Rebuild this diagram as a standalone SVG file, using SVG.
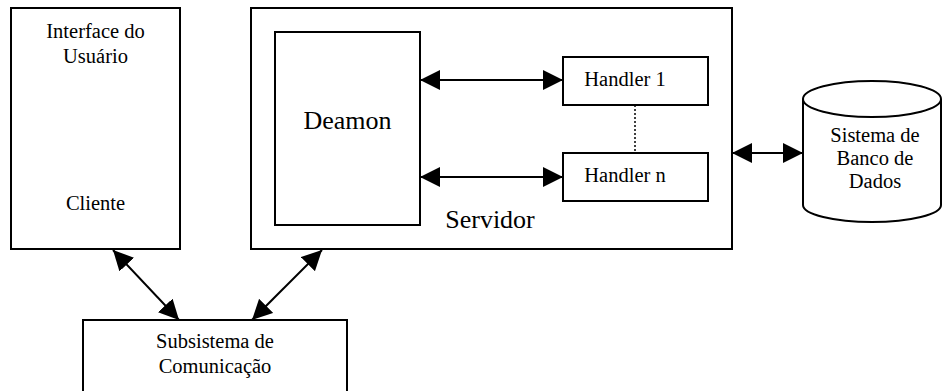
<svg xmlns="http://www.w3.org/2000/svg" width="943" height="391" viewBox="0 0 943 391">
  <defs>
    <style>
      .box { fill: #fff; stroke: #000; stroke-width: 2; }
      .txt { font-family: 'Liberation Serif', 'DejaVu Serif', serif; font-size: 20.5px; fill: #000; text-anchor: middle; }
      .big { font-size: 26px; }
      .link { stroke: #000; stroke-width: 2; fill: none; marker-start: url(#head); marker-end: url(#head); }
      .dots { stroke: #000; stroke-width: 1.5; stroke-dasharray: 2 2; fill: none; }
    </style>
    <marker id="head" markerUnits="userSpaceOnUse" markerWidth="20" markerHeight="20" refX="20" refY="10" orient="auto-start-reverse">
      <path d="M0,0 L20,10 L0,20 Z" fill="#000"/>
    </marker>
  </defs>

  <rect width="943" height="391" fill="#fff"/>

  <g id="cliente">
    <rect class="box" x="11" y="8" width="169" height="241"/>
    <text class="txt" x="95.5" y="38">Interface do</text>
    <text class="txt" x="95.5" y="63">Usuário</text>
    <text class="txt" x="95.5" y="210">Cliente</text>
  </g>

  <g id="servidor">
    <rect class="box" x="251" y="8" width="481" height="241"/>
    <text class="txt big" x="490" y="228">Servidor</text>
  </g>

  <g id="deamon">
    <rect class="box" x="275" y="32" width="145" height="193"/>
    <text class="txt big" x="347.5" y="129">Deamon</text>
  </g>

  <g id="handler1">
    <rect class="box" x="563" y="57" width="145" height="48"/>
    <text class="txt" x="625" y="86">Handler 1</text>
  </g>

  <g id="handlern">
    <rect class="box" x="563" y="153" width="145" height="48"/>
    <text class="txt" x="625" y="182">Handler n</text>
  </g>

  <g id="banco">
    <path class="box" d="M803,99 A69,18 0 0 1 941,99 L941,205 A69,17 0 0 1 803,205 Z"/>
    <path class="box" fill="none" d="M803,99 A69,18 0 0 0 941,99"/>
    <text class="txt" x="875" y="142">Sistema de</text>
    <text class="txt" x="875" y="165">Banco de</text>
    <text class="txt" x="875" y="188">Dados</text>
  </g>

  <g id="comunicacao">
    <rect class="box" x="83" y="320" width="264" height="80"/>
    <text class="txt" x="215" y="348">Subsistema de</text>
    <text class="txt" x="215" y="373">Comunicação</text>
  </g>

  <g id="conectores">
    <line class="link" x1="420" y1="80" x2="563" y2="80"/>
    <line class="link" x1="420" y1="177" x2="563" y2="177"/>
    <line class="link" x1="732" y1="153" x2="803" y2="153"/>
    <line class="link" x1="113" y1="250" x2="179" y2="320"/>
    <line class="link" x1="322" y1="250" x2="252" y2="320"/>
    <line class="dots" x1="635" y1="105" x2="635" y2="153"/>
  </g>
</svg>
